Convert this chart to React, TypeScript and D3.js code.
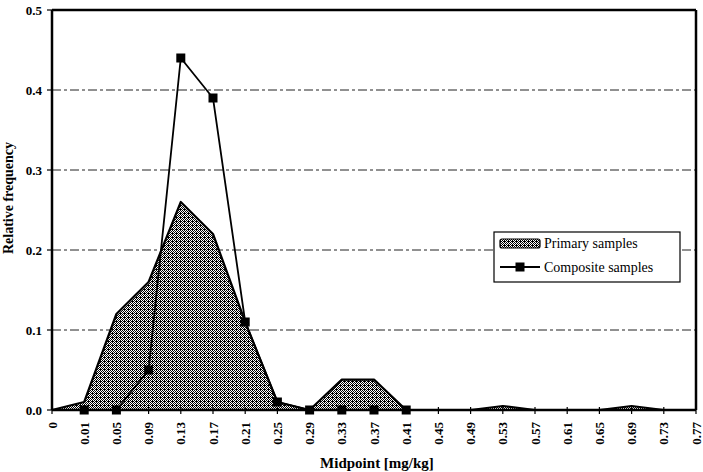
import React from "react";
import * as d3 from "d3";

const categories = ["0", "0.01", "0.05", "0.09", "0.13", "0.17", "0.21", "0.25", "0.29", "0.33", "0.37", "0.41", "0.45", "0.49", "0.53", "0.57", "0.61", "0.65", "0.69", "0.73", "0.77"];
const primary = [0, 0.01, 0.12, 0.16, 0.26, 0.22, 0.11, 0.01, 0, 0.038, 0.038, 0, 0, 0, 0.005, 0, 0, 0, 0.005, 0, 0];
const compositeCats = ["0.01", "0.05", "0.09", "0.13", "0.17", "0.21", "0.25", "0.29", "0.33", "0.37", "0.41"];
const composite = [0, 0, 0.05, 0.44, 0.39, 0.11, 0.01, 0, 0, 0, 0];
const yTicks = [0, 0.1, 0.2, 0.3, 0.4, 0.5];
const gridTicks = [0.1, 0.2, 0.3, 0.4];

const W = 703, H = 472;
const L = 52, R = 696, T = 10, B = 410;
const serif = "'Liberation Serif', 'Times New Roman', serif";

const stipple: [number, number][] = [[0, 0], [2, 0], [1, 1], [3, 1], [2, 2], [0, 2], [1, 3], [3, 3], [0, 1]];

export default function App() {
  const x = d3.scalePoint<string>().domain(categories).range([L, R]);
  const y = d3.scaleLinear().domain([0, 0.5]).range([B, T]);
  const areaGen = d3.area<number>().x((_, i) => x(categories[i])!).y0(y(0)).y1((d) => y(d));
  const lineTop = d3.line<number>().x((_, i) => x(categories[i])!).y((d) => y(d));
  const compLine = d3.line<number>().x((_, i) => x(compositeCats[i])!).y((d) => y(d));

  const legX = 494, legY = 232, legW = 186, legH = 50;

  return (
    <svg width={W} height={H} style={{ position: "absolute", left: 0, top: 0, background: "#fff" }}>
      <defs>
        <pattern id="stip" width={4} height={4} patternUnits="userSpaceOnUse">
          <rect width={4} height={4} fill="#fff" />
          {stipple.map(([a, b], i) => (
            <rect key={i} x={a} y={b} width={1} height={1} fill="#000" />
          ))}
        </pattern>
      </defs>
      <rect width={W} height={H} fill="#fff" />
      {gridTicks.map((t) => (
        <line key={t} x1={L} x2={R} y1={y(t)} y2={y(t)} stroke="#222" strokeWidth={1} strokeDasharray="9,3,3,3" />
      ))}
      <path d={areaGen(primary)!} fill="url(#stip)" stroke="none" />
      <path d={lineTop(primary)!} fill="none" stroke="#000" strokeWidth={2.2} strokeLinejoin="round" />
      <path d={compLine(composite)!} fill="none" stroke="#000" strokeWidth={1.8} />
      {composite.map((v, i) => (
        <rect key={i} x={x(compositeCats[i])! - 4.5} y={y(v) - 4.5} width={9} height={9} fill="#000" />
      ))}
      <line x1={L} x2={R} y1={T} y2={T} stroke="#000" strokeWidth={2.5} />
      <line x1={R} x2={R} y1={T} y2={B} stroke="#000" strokeWidth={2.5} />
      <line x1={L} x2={L} y1={T} y2={B} stroke="#000" strokeWidth={2.5} />
      <line x1={L} x2={R} y1={B} y2={B} stroke="#000" strokeWidth={2.5} />
      {categories.map((c) => (
        <line key={c} x1={x(c)} x2={x(c)} y1={B - 3} y2={B + 4} stroke="#000" strokeWidth={1.2} />
      ))}
      {yTicks.map((t) => (
        <g key={t}>
          <line x1={L - 5} x2={L} y1={y(t)} y2={y(t)} stroke="#000" strokeWidth={1.2} />
          <text x={42} y={y(t)} dy="0.35em" textAnchor="end" fontFamily={serif} fontWeight="bold" fontSize={13}>
            {t.toFixed(1)}
          </text>
        </g>
      ))}
      {categories.map((c) => (
        <text key={c} transform={`translate(${x(c)! + 4.5},${B + 12}) rotate(-90)`} textAnchor="end" fontFamily={serif} fontWeight="bold" fontSize={13}>
          {c}
        </text>
      ))}
      <text x={377} y={468} textAnchor="middle" fontFamily={serif} fontWeight="bold" fontSize={15}>
        Midpoint [mg/kg]
      </text>
      <text transform={`translate(13,198) rotate(-90)`} textAnchor="middle" fontFamily={serif} fontWeight="bold" fontSize={14}>
        Relative frequency
      </text>
      <rect x={legX} y={legY} width={legW} height={legH} fill="#fff" stroke="#000" strokeWidth={1.2} />
      <rect x={legX + 6} y={legY + 7} width={40} height={9} fill="url(#stip)" stroke="#000" strokeWidth={1.2} rx={2} />
      <text x={legX + 50} y={legY + 16} fontFamily={serif} fontSize={14}>Primary samples</text>
      <line x1={legX + 6} x2={legX + 46} y1={legY + 35} y2={legY + 35} stroke="#000" strokeWidth={1.8} />
      <rect x={legX + 21.5} y={legY + 30.5} width={9} height={9} fill="#000" />
      <text x={legX + 50} y={legY + 40} fontFamily={serif} fontSize={14}>Composite samples</text>
    </svg>
  );
}
